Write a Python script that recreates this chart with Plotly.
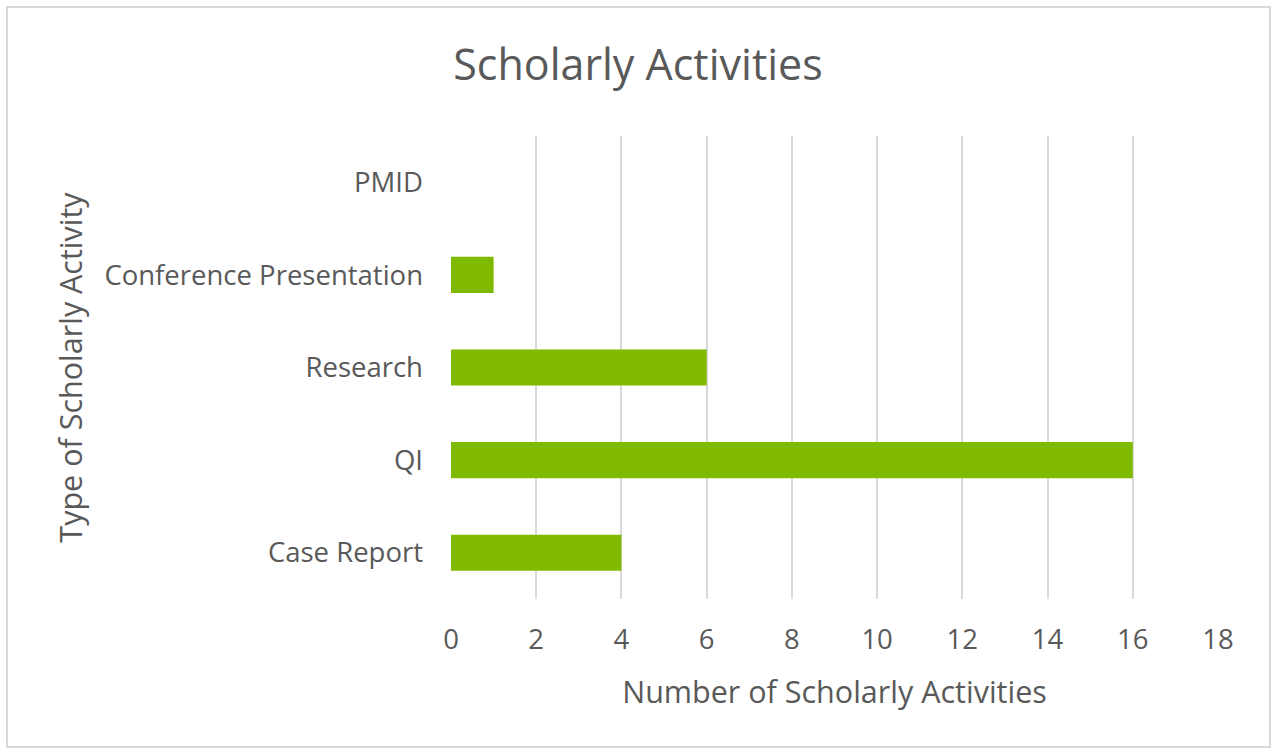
import plotly.graph_objects as go

categories = ["Case Report", "QI", "Research", "Conference Presentation", "PMID"]
values = [4, 16, 6, 1, 0]
x_ticks = [0, 2, 4, 6, 8, 10, 12, 14, 16, 18]

W, H = 1273, 753
ML, MR, MT, MB = 451, 55, 136, 154
pw = W - ML - MR
ph = H - MT - MB

def px(x):
    return (x - ML) / pw

def py(y):
    return (H - MB - y) / ph

text_color = "#595959"
font_family = "Open Sans, Calibri, Arial, sans-serif"

fig = go.Figure(
    go.Bar(
        y=categories,
        x=values,
        orientation="h",
        marker=dict(color="#7FBA00", line=dict(width=0)),
        hoverinfo="x+y",
    )
)

fig.update_layout(
    width=W,
    height=H,
    margin=dict(l=ML, r=MR, t=MT, b=MB),
    paper_bgcolor="white",
    plot_bgcolor="white",
    bargap=0.61,
    showlegend=False,
    font=dict(family=font_family, color=text_color),
    title=dict(
        text="Scholarly Activities",
        x=(638) / W,
        xanchor="center",
        y=1 - 65 / H,
        yanchor="middle",
        font=dict(size=43, color=text_color, family=font_family),
    ),
    xaxis=dict(
        range=[0, 18],
        tickmode="array",
        tickvals=x_ticks,
        ticktext=[str(v) for v in x_ticks],
        showgrid=True,
        gridcolor="#D9D9D9",
        gridwidth=2,
        zeroline=False,
        showline=False,
        ticks="",
        tickfont=dict(size=27.5, color=text_color),
        ticklabelstandoff=21,
        title=dict(
            text="Number of Scholarly Activities",
            font=dict(size=30.5, color=text_color),
            standoff=26,
        ),
        fixedrange=True,
    ),
    yaxis=dict(
        categoryorder="array",
        categoryarray=categories,
        showgrid=False,
        zeroline=False,
        showline=False,
        ticks="",
        tickfont=dict(size=27.5, color=text_color),
        ticklabelstandoff=27,
        title=dict(
            text="Type of Scholarly Activity",
            font=dict(size=30.5, color=text_color),
            standoff=12,
        ),
        fixedrange=True,
    ),
    shapes=[
        dict(
            type="rect",
            xref="paper",
            yref="paper",
            x0=px(7),
            x1=px(1270),
            y0=py(747),
            y1=py(7),
            line=dict(color="#D9D9D9", width=2),
            fillcolor="rgba(0,0,0,0)",
            layer="below",
        )
    ],
)

fig.write_html(
    "out.html",
    config={"displayModeBar": False},
    post_script="document.body.style.margin='0';document.body.style.overflow='hidden';",
)
